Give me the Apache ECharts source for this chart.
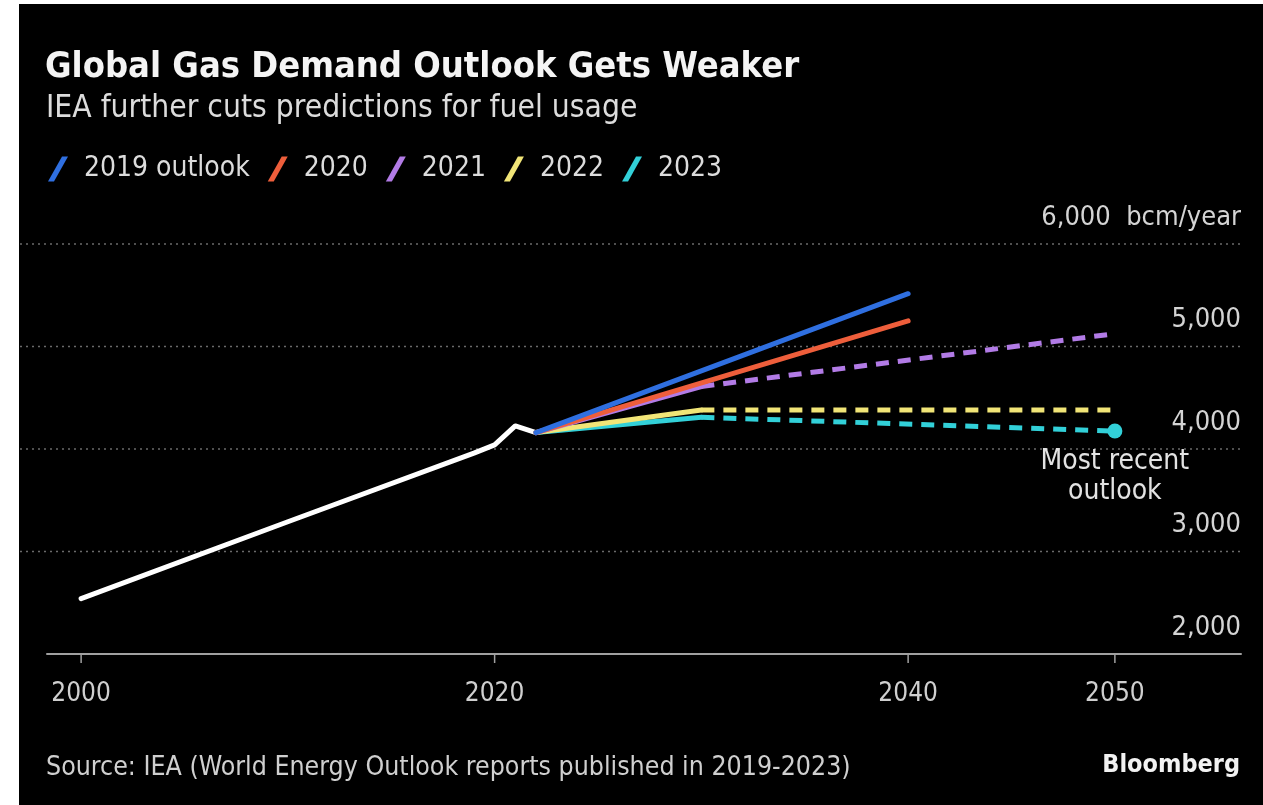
<!DOCTYPE html>
<html>
<head>
<meta charset="utf-8">
<script src="https://cdn.jsdelivr.net/npm/echarts@6/dist/echarts.min.js"></script>
<style>
  html, body { margin: 0; padding: 0; background: #fff; }
  #chart { width: 1263px; height: 805px; }
</style>
</head>
<body>
<div id="chart"></div>
<script>
// Historical global gas demand, bcm/year
const historyYears = [2000, 2010, 2019, 2020, 2021, 2022];
const historyValues = [2540, 3290, 3960, 4040, 4225, 4160];

// IEA outlooks (World Energy Outlook, stated policies), bcm/year
const years2019 = [2022, 2040];
const values2019 = [4160, 5515];
const years2020 = [2022, 2040];
const values2020 = [4160, 5250];
const years2021 = [2022, 2030, 2050];
const values2021 = [4160, 4610, 5125];
const years2022 = [2022, 2030, 2050];
const values2022 = [4160, 4380, 4380];
const years2023 = [2022, 2030, 2050];
const values2023 = [4160, 4310, 4175];

const outlookNames = ['2019 outlook', '2020', '2021', '2022', '2023'];
const xTickYears = [2000, 2020, 2040, 2050];
const yTickValues = [2000, 3000, 4000, 5000, 6000];
// Outlooks reaching 2050 are drawn dashed beyond this year
const dashedAfterYear = 2030;

const FONT = 'DejaVu Sans Condensed';
const colors = {
  '2019 outlook': '#2f6fe0',
  '2020': '#ee5e3b',
  '2021': '#b27be6',
  '2022': '#f1e577',
  '2023': '#32d0d8'
};

// Drawing order: later entries sit on top where the lines meet
const outlooks = [
  { name: '2023', years: years2023, values: values2023 },
  { name: '2022', years: years2022, values: values2022 },
  { name: '2021', years: years2021, values: values2021 },
  { name: '2020', years: years2020, values: values2020 },
  { name: '2019 outlook', years: years2019, values: values2019 }
];

const series = [{
  // dotted horizontal gridlines, running a little past the axis on the left
  name: 'gridlines',
  type: 'custom',
  data: yTickValues.slice(1).map(v => [xTickYears[0], v]),
  silent: true,
  z: 0,
  renderItem: (params, api) => {
    const y = api.coord([api.value(0), api.value(1)])[1];
    const cs = params.coordSys;
    return {
      type: 'line',
      shape: { x1: 20, y1: y, x2: cs.x + cs.width, y2: y },
      style: { stroke: '#6a6a6a', lineWidth: 1.5, lineDash: [2, 4] }
    };
  }
}, {
  // tick marks under the year labels
  name: 'ticks',
  type: 'custom',
  data: xTickYears.map(y => [y, yTickValues[0]]),
  silent: true,
  z: 1,
  renderItem: (params, api) => {
    const p = api.coord([api.value(0), api.value(1)]);
    return {
      type: 'line',
      shape: { x1: p[0], y1: p[1], x2: p[0], y2: p[1] + 9 },
      style: { stroke: '#a0a0a0', lineWidth: 1.5 }
    };
  }
}, {
  name: 'history',
  type: 'line',
  data: historyYears.map((y, i) => [y, historyValues[i]]),
  showSymbol: false,
  lineStyle: { color: '#ffffff', width: 5, cap: 'round', join: 'round' },
  z: 2,
  silent: true
}];

outlooks.forEach(o => {
  const pts = o.years.map((y, i) => [y, o.values[i]]);
  const hasDashedPart = o.years.includes(dashedAfterYear);
  const solid = hasDashedPart ? pts.filter(p => p[0] <= dashedAfterYear) : pts;
  const dashed = hasDashedPart ? pts.filter(p => p[0] >= dashedAfterYear) : [];
  const color = colors[o.name];
  series.push({
    name: o.name,
    type: 'line',
    data: solid,
    showSymbol: false,
    itemStyle: { color },
    lineStyle: { color, width: 5, cap: 'round' },
    z: 3
  });
  if (dashed.length > 1) {
    const data = dashed.map(p => ({ value: p }));
    if (o.name === '2023') {
      const last = data[data.length - 1];
      last.symbol = 'circle';
      last.symbolSize = 15;
      last.label = {
        show: true,
        position: 'bottom',
        distance: 8,
        formatter: 'Most recent\noutlook',
        color: '#e2e2e2',
        fontFamily: FONT,
        fontSize: 28,
        lineHeight: 30,
        align: 'center'
      };
    }
    series.push({
      name: o.name,
      type: 'line',
      data,
      symbol: 'none',
      showSymbol: true,
      itemStyle: { color },
      lineStyle: { color, width: 5, type: [13, 9] },
      z: 3
    });
  }
});

const slashIcon = 'path://M0,25 L14,0 L20,0 L6,25 Z';

const chart = echarts.init(document.getElementById('chart'), null, { renderer: 'canvas' });
chart.setOption({
  backgroundColor: '#000',
  animation: false,
  graphic: [
    { type: 'rect', shape: { x: 0, y: 0, width: 19, height: 805 }, style: { fill: '#fff' }, silent: true },
    { type: 'rect', shape: { x: 0, y: 0, width: 1263, height: 4 }, style: { fill: '#fff' }, silent: true }
  ],
  title: [
    {
      text: 'Global Gas Demand Outlook Gets Weaker',
      left: 45, top: 50, padding: 0,
      textStyle: { fontFamily: FONT, fontSize: 36, fontWeight: 'bold', color: '#f4f4f4' }
    },
    {
      text: 'IEA further cuts predictions for fuel usage',
      left: 46, top: 93, padding: 0,
      textStyle: { fontFamily: FONT, fontSize: 31.5, fontWeight: 'normal', color: '#dcdcdc' }
    },
    {
      text: 'Source: IEA (World Energy Outlook reports published in 2019-2023)',
      left: 46, top: 755, padding: 0,
      textStyle: { fontFamily: FONT, fontSize: 26.5, fontWeight: 'normal', color: '#cfcfcf' }
    },
    {
      text: 'Bloomberg',
      right: 23, top: 753, padding: 0,
      textStyle: { fontFamily: FONT, fontSize: 25, fontWeight: 'bold', color: '#f2f2f2' }
    }
  ],
  legend: {
    left: 48, top: 155, padding: 0,
    itemWidth: 20, itemHeight: 25, itemGap: 18,
    selectedMode: false,
    textStyle: { fontFamily: FONT, fontSize: 28, color: '#dcdcdc', padding: [0, 0, 0, 11] },
    data: outlookNames.map(n => ({ name: n, icon: slashIcon, itemStyle: { color: colors[n] } }))
  },
  grid: { left: 47, right: 22, top: 244, bottom: 151, containLabel: false },
  xAxis: {
    type: 'value',
    min: 1998.35,
    max: 2056.1,
    axisLine: { show: true, lineStyle: { color: '#a0a0a0', width: 2 } },
    axisTick: { show: false },
    axisLabel: {
      customValues: xTickYears,
      formatter: v => String(v),
      margin: 27,
      fontFamily: FONT, fontSize: 26, color: '#cfcfcf'
    },
    splitLine: { show: false }
  },
  yAxis: {
    type: 'value',
    position: 'right',
    min: 2000,
    max: 6000,
    interval: 1000,
    axisLine: { show: false },
    axisTick: { show: false },
    axisLabel: {
      inside: true,
      margin: 0,
      verticalAlign: 'bottom',
      padding: [0, 0, 13, 0],
      fontFamily: FONT, fontSize: 27, color: '#d4d4d4',
      formatter: v => {
        const s = v.toLocaleString('en-US');
        return v === yTickValues[yTickValues.length - 1] ? s + '  bcm/year' : s;
      }
    },
    splitLine: { show: false }
  },
  series
});
</script>
</body>
</html>
